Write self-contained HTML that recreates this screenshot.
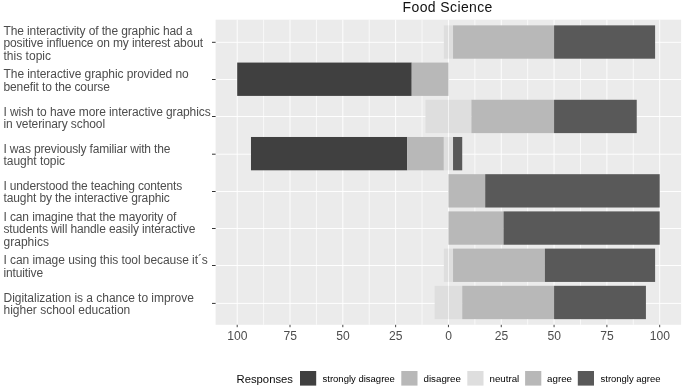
<!DOCTYPE html>
<html><head><meta charset="utf-8"><title>Food Science</title>
<style>html,body{margin:0;padding:0;background:#fff}svg{display:block;filter:grayscale(1)}text{font-family:"Liberation Sans",sans-serif}</style></head>
<body>
<svg width="685" height="388" viewBox="0 0 685 388">
<rect width="685" height="388" fill="#fff"/>
<rect x="215.6" y="19.7" width="465.50" height="305.10" fill="#ebebeb"/>
<line x1="263.61" x2="263.61" y1="19.7" y2="324.8" stroke="#fff" stroke-width="0.7"/>
<line x1="316.42" x2="316.42" y1="19.7" y2="324.8" stroke="#fff" stroke-width="0.7"/>
<line x1="369.23" x2="369.23" y1="19.7" y2="324.8" stroke="#fff" stroke-width="0.7"/>
<line x1="422.04" x2="422.04" y1="19.7" y2="324.8" stroke="#fff" stroke-width="0.7"/>
<line x1="474.86" x2="474.86" y1="19.7" y2="324.8" stroke="#fff" stroke-width="0.7"/>
<line x1="527.67" x2="527.67" y1="19.7" y2="324.8" stroke="#fff" stroke-width="0.7"/>
<line x1="580.48" x2="580.48" y1="19.7" y2="324.8" stroke="#fff" stroke-width="0.7"/>
<line x1="633.29" x2="633.29" y1="19.7" y2="324.8" stroke="#fff" stroke-width="0.7"/>
<line x1="237.20" x2="237.20" y1="19.7" y2="324.8" stroke="#fff" stroke-width="0.92"/>
<line x1="290.01" x2="290.01" y1="19.7" y2="324.8" stroke="#fff" stroke-width="0.92"/>
<line x1="342.82" x2="342.82" y1="19.7" y2="324.8" stroke="#fff" stroke-width="0.92"/>
<line x1="395.64" x2="395.64" y1="19.7" y2="324.8" stroke="#fff" stroke-width="0.92"/>
<line x1="448.45" x2="448.45" y1="19.7" y2="324.8" stroke="#fff" stroke-width="0.92"/>
<line x1="501.26" x2="501.26" y1="19.7" y2="324.8" stroke="#fff" stroke-width="0.92"/>
<line x1="554.07" x2="554.07" y1="19.7" y2="324.8" stroke="#fff" stroke-width="0.92"/>
<line x1="606.89" x2="606.89" y1="19.7" y2="324.8" stroke="#fff" stroke-width="0.92"/>
<line x1="659.70" x2="659.70" y1="19.7" y2="324.8" stroke="#fff" stroke-width="0.92"/>
<line x1="215.6" x2="681.1" y1="42.30" y2="42.30" stroke="#fff" stroke-width="0.92"/>
<line x1="215.6" x2="681.1" y1="79.50" y2="79.50" stroke="#fff" stroke-width="0.92"/>
<line x1="215.6" x2="681.1" y1="116.50" y2="116.50" stroke="#fff" stroke-width="0.92"/>
<line x1="215.6" x2="681.1" y1="154.20" y2="154.20" stroke="#fff" stroke-width="0.92"/>
<line x1="215.6" x2="681.1" y1="191.50" y2="191.50" stroke="#fff" stroke-width="0.92"/>
<line x1="215.6" x2="681.1" y1="228.50" y2="228.50" stroke="#fff" stroke-width="0.92"/>
<line x1="215.6" x2="681.1" y1="265.50" y2="265.50" stroke="#fff" stroke-width="0.92"/>
<line x1="215.6" x2="681.1" y1="303.40" y2="303.40" stroke="#fff" stroke-width="0.92"/>
<rect x="443.86" y="25.36" width="4.29" height="33.33" fill="#dedede"/>
<rect x="448.75" y="25.36" width="4.29" height="33.33" fill="#dedede"/>
<rect x="453.04" y="25.36" width="101.03" height="33.33" fill="#b8b8b8"/>
<rect x="554.07" y="25.36" width="101.03" height="33.33" fill="#595959"/>
<rect x="237.20" y="62.57" width="174.51" height="33.33" fill="#404040"/>
<rect x="411.71" y="62.57" width="36.74" height="33.33" fill="#b8b8b8"/>
<rect x="425.49" y="99.78" width="22.66" height="33.33" fill="#dedede"/>
<rect x="448.75" y="99.78" width="22.66" height="33.33" fill="#dedede"/>
<rect x="471.41" y="99.78" width="82.66" height="33.33" fill="#b8b8b8"/>
<rect x="554.07" y="99.78" width="82.66" height="33.33" fill="#595959"/>
<rect x="250.98" y="136.98" width="156.14" height="33.33" fill="#404040"/>
<rect x="407.12" y="136.98" width="36.74" height="33.33" fill="#b8b8b8"/>
<rect x="443.86" y="136.98" width="4.29" height="33.33" fill="#dedede"/>
<rect x="448.75" y="136.98" width="4.29" height="33.33" fill="#dedede"/>
<rect x="453.04" y="136.98" width="9.18" height="33.33" fill="#595959"/>
<rect x="448.45" y="174.19" width="36.74" height="33.33" fill="#b8b8b8"/>
<rect x="485.19" y="174.19" width="174.51" height="33.33" fill="#595959"/>
<rect x="448.45" y="211.40" width="55.11" height="33.33" fill="#b8b8b8"/>
<rect x="503.56" y="211.40" width="156.14" height="33.33" fill="#595959"/>
<rect x="443.86" y="248.60" width="4.29" height="33.33" fill="#dedede"/>
<rect x="448.75" y="248.60" width="4.29" height="33.33" fill="#dedede"/>
<rect x="453.04" y="248.60" width="91.85" height="33.33" fill="#b8b8b8"/>
<rect x="544.89" y="248.60" width="110.22" height="33.33" fill="#595959"/>
<rect x="434.67" y="285.81" width="13.48" height="33.33" fill="#dedede"/>
<rect x="448.75" y="285.81" width="13.48" height="33.33" fill="#dedede"/>
<rect x="462.23" y="285.81" width="91.85" height="33.33" fill="#b8b8b8"/>
<rect x="554.07" y="285.81" width="91.85" height="33.33" fill="#595959"/>
<line x1="212.00" x2="215.6" y1="42.30" y2="42.30" stroke="#333" stroke-width="1.0"/>
<line x1="212.00" x2="215.6" y1="79.50" y2="79.50" stroke="#333" stroke-width="1.0"/>
<line x1="212.00" x2="215.6" y1="116.50" y2="116.50" stroke="#333" stroke-width="1.0"/>
<line x1="212.00" x2="215.6" y1="154.20" y2="154.20" stroke="#333" stroke-width="1.0"/>
<line x1="212.00" x2="215.6" y1="191.50" y2="191.50" stroke="#333" stroke-width="1.0"/>
<line x1="212.00" x2="215.6" y1="228.50" y2="228.50" stroke="#333" stroke-width="1.0"/>
<line x1="212.00" x2="215.6" y1="265.50" y2="265.50" stroke="#333" stroke-width="1.0"/>
<line x1="212.00" x2="215.6" y1="303.40" y2="303.40" stroke="#333" stroke-width="1.0"/>
<line x1="237.20" x2="237.20" y1="324.8" y2="327.20" stroke="#444" stroke-width="1.0"/>
<line x1="290.01" x2="290.01" y1="324.8" y2="327.20" stroke="#444" stroke-width="1.0"/>
<line x1="342.82" x2="342.82" y1="324.8" y2="327.20" stroke="#444" stroke-width="1.0"/>
<line x1="395.64" x2="395.64" y1="324.8" y2="327.20" stroke="#444" stroke-width="1.0"/>
<line x1="448.45" x2="448.45" y1="324.8" y2="327.20" stroke="#444" stroke-width="1.0"/>
<line x1="501.26" x2="501.26" y1="324.8" y2="327.20" stroke="#444" stroke-width="1.0"/>
<line x1="554.07" x2="554.07" y1="324.8" y2="327.20" stroke="#444" stroke-width="1.0"/>
<line x1="606.89" x2="606.89" y1="324.8" y2="327.20" stroke="#444" stroke-width="1.0"/>
<line x1="659.70" x2="659.70" y1="324.8" y2="327.20" stroke="#444" stroke-width="1.0"/>
<text x="237.40" y="339.6" font-size="12.1" fill="#4d4d4d" text-anchor="middle">100</text>
<text x="290.21" y="339.6" font-size="12.1" fill="#4d4d4d" text-anchor="middle">75</text>
<text x="343.02" y="339.6" font-size="12.1" fill="#4d4d4d" text-anchor="middle">50</text>
<text x="395.84" y="339.6" font-size="12.1" fill="#4d4d4d" text-anchor="middle">25</text>
<text x="448.65" y="339.6" font-size="12.1" fill="#4d4d4d" text-anchor="middle">0</text>
<text x="501.46" y="339.6" font-size="12.1" fill="#4d4d4d" text-anchor="middle">25</text>
<text x="554.27" y="339.6" font-size="12.1" fill="#4d4d4d" text-anchor="middle">50</text>
<text x="607.09" y="339.6" font-size="12.1" fill="#4d4d4d" text-anchor="middle">75</text>
<text x="659.90" y="339.6" font-size="12.1" fill="#4d4d4d" text-anchor="middle">100</text>
<text class="yl" x="3.5" y="34.92" font-size="12" textLength="188.95" lengthAdjust="spacing" fill="#4d4d4d">The interactivity of the graphic had a</text>
<text class="yl" x="3.5" y="47.32" font-size="12" textLength="199.62" lengthAdjust="spacing" fill="#4d4d4d">positive influence on my interest about</text>
<text class="yl" x="3.5" y="59.72" font-size="12" textLength="47.54" lengthAdjust="spacing" fill="#4d4d4d">this topic</text>
<text class="yl" x="3.5" y="78.33" font-size="12" textLength="185.29" lengthAdjust="spacing" fill="#4d4d4d">The interactive graphic provided no</text>
<text class="yl" x="3.5" y="90.73" font-size="12" textLength="106.41" lengthAdjust="spacing" fill="#4d4d4d">benefit to the course</text>
<text class="yl" x="3.5" y="115.54" font-size="12" textLength="207.17" lengthAdjust="spacing" fill="#4d4d4d">I wish to have more interactive graphics</text>
<text class="yl" x="3.5" y="127.94" font-size="12" textLength="101.59" lengthAdjust="spacing" fill="#4d4d4d">in veterinary school</text>
<text class="yl" x="3.5" y="152.75" font-size="12" textLength="166.93" lengthAdjust="spacing" fill="#4d4d4d">I was previously familiar with the</text>
<text class="yl" x="3.5" y="165.15" font-size="12" textLength="61.60" lengthAdjust="spacing" fill="#4d4d4d">taught topic</text>
<text class="yl" x="3.5" y="189.95" font-size="12" textLength="178.74" lengthAdjust="spacing" fill="#4d4d4d">I understood the teaching contents</text>
<text class="yl" x="3.5" y="202.35" font-size="12" textLength="166.33" lengthAdjust="spacing" fill="#4d4d4d">taught by the interactive graphic</text>
<text class="yl" x="3.5" y="220.96" font-size="12" textLength="172.81" lengthAdjust="spacing" fill="#4d4d4d">I can imagine that the mayority of</text>
<text class="yl" x="3.5" y="233.36" font-size="12" textLength="191.92" lengthAdjust="spacing" fill="#4d4d4d">students will handle easily interactive</text>
<text class="yl" x="3.5" y="245.76" font-size="12" textLength="45.45" lengthAdjust="spacing" fill="#4d4d4d">graphics</text>
<text class="yl" x="3.5" y="264.37" font-size="12" textLength="204.35" lengthAdjust="spacing" fill="#4d4d4d">I can image using this tool because it´s</text>
<text class="yl" x="3.5" y="276.77" font-size="12" textLength="39.61" lengthAdjust="spacing" fill="#4d4d4d">intuitive</text>
<text class="yl" x="3.5" y="301.58" font-size="12" textLength="190.36" lengthAdjust="spacing" fill="#4d4d4d">Digitalization is a chance to improve</text>
<text class="yl" x="3.5" y="313.98" font-size="12" textLength="126.77" lengthAdjust="spacing" fill="#4d4d4d">higher school education</text>
<text id="title" x="402.6" y="12" font-size="14" fill="#111" textLength="89.8" lengthAdjust="spacing">Food Science</text>
<text id="lt" x="236.5" y="382.6" font-size="11.3" fill="#0a0a0a">Responses</text>
<rect x="300.0" y="371.0" width="16.2" height="14.6" fill="#404040"/>
<text class="lg" x="322.54" y="382" font-size="9.6" textLength="72.33" lengthAdjust="spacingAndGlyphs" fill="#000">strongly disagree</text>
<rect x="401.3" y="371.0" width="16.2" height="14.6" fill="#b8b8b8"/>
<text class="lg" x="423.54" y="382" font-size="9.6" textLength="37.37" lengthAdjust="spacingAndGlyphs" fill="#000">disagree</text>
<rect x="467.3" y="371.0" width="16.2" height="14.6" fill="#dedede"/>
<text class="lg" x="489.52" y="382" font-size="9.6" textLength="29.74" lengthAdjust="spacingAndGlyphs" fill="#000">neutral</text>
<rect x="525.1" y="371.0" width="16.2" height="14.6" fill="#b8b8b8"/>
<text class="lg" x="547.06" y="382" font-size="9.6" textLength="24.95" lengthAdjust="spacingAndGlyphs" fill="#000">agree</text>
<rect x="577.8" y="371.0" width="16.2" height="14.6" fill="#595959"/>
<text class="lg" x="600.54" y="382" font-size="9.6" textLength="59.88" lengthAdjust="spacingAndGlyphs" fill="#000">strongly agree</text>
</svg>
</body></html>
